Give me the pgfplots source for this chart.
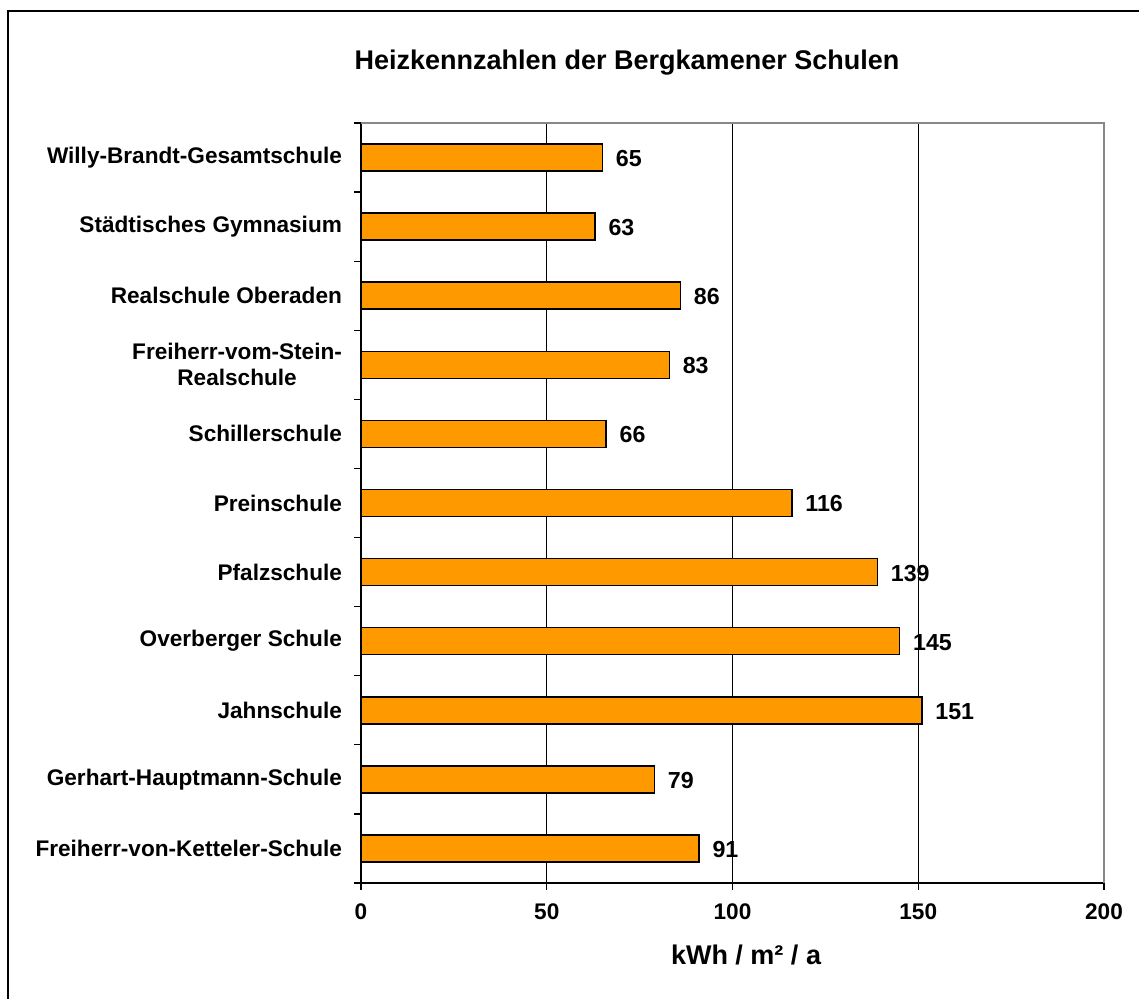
\documentclass[border=0pt]{standalone}
\usepackage{pgfplots}
\pgfplotsset{compat=1.18}
\usepackage{fontspec}
\setmainfont{Liberation Sans}
\definecolor{barorange}{HTML}{FF9900}
\definecolor{boxgray}{HTML}{888888}
\begin{document}
\begin{tikzpicture}
\pgfkeys{/pgf/number format/assume math mode=true}
\path[use as bounding box] (0,0) rectangle (569.5pt,499.5pt);
\draw[line width=0.9pt] (4pt,0) -- (4pt,494pt) -- (569.5pt,494pt);
\node[font=\fontsize{13.5}{16}\selectfont\bfseries] at (313.5pt,468pt) {Heizkennzahlen der Bergkamener Schulen};
\node[font=\fontsize{13.5}{16}\selectfont\bfseries] at (373pt,22pt) {kWh / m² / a};
\begin{axis}[
  at={(180.5pt,58pt)}, anchor=south west,
  scale only axis, width=371.5pt, height=380pt,
  xbar, bar width=13.5pt,
  xmin=0, xmax=200, ymin=-0.5, ymax=10.5,
  clip=false,
  axis lines*=left,
  axis line style={black, line width=0.7pt},
  tick style={black, line width=0.6pt},
  xtick={0,50,100,150,200}, tick align=outside, major tick length=3.5pt,
  xmajorgrids, grid style={black, line width=0.5pt},
  xticklabel style={font=\fontsize{11.3}{13}\selectfont\bfseries, yshift=-3.5pt},
  ytick={-0.5,0.5,...,10.5}, yticklabels={},
  extra y ticks={0,1,2,3,4,5,6,7,8,9,10},
  extra y tick labels={{Freiherr-von-Ketteler-Schule},{Gerhart-Hauptmann-Schule},{Jahnschule},{Overberger Schule},{Pfalzschule},{Preinschule},{Schillerschule},{Freiherr-vom-Stein-\\Realschule},{Realschule Oberaden},{Städtisches Gymnasium},{Willy-Brandt-Gesamtschule}},
  extra y tick style={major tick length=0pt, yticklabel style={font=\fontsize{11.3}{13}\selectfont\bfseries, align=center, anchor=east, xshift=-6pt}},
  nodes near coords,
  nodes near coords style={font=\fontsize{11.6}{13}\selectfont\bfseries, anchor=west, xshift=3pt, yshift=-0.5pt},
]
\addplot[draw=black, line width=0.8pt, fill=barorange] coordinates {
  (91,0) (79,1) (151,2) (145,3) (139,4) (116,5) (66,6) (83,7) (86,8) (63,9) (65,10)
};
\draw[boxgray, line width=0.9pt] (rel axis cs:0,1) -- (rel axis cs:1,1) -- (rel axis cs:1,0);
\end{axis}
\end{tikzpicture}
\end{document}
